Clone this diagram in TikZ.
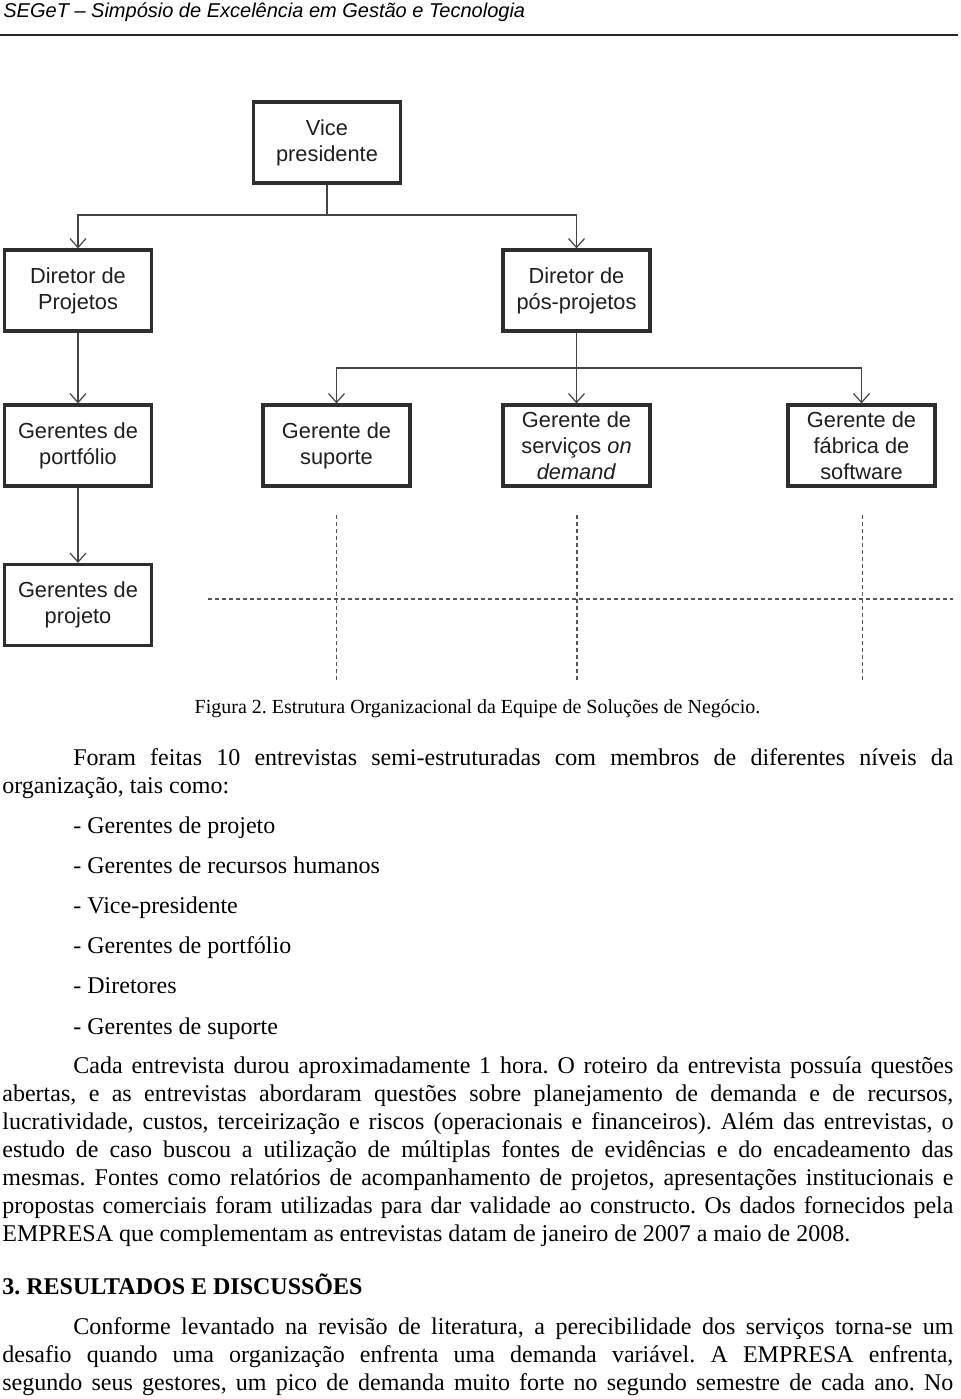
\documentclass[tikz,border=0pt]{standalone}
\usepackage{fontspec}
\setmainfont{Liberation Serif}
\newfontfamily\arial{Liberation Sans}
\usetikzlibrary{arrows.meta}
\definecolor{boxline}{HTML}{2E2E2E}
\definecolor{connline}{HTML}{444444}
\definecolor{dashline}{HTML}{555555}
\frenchspacing
\newcommand{\jfull}[1]{\hbox to 475.5pt{#1}}
\newcommand{\jind}[1]{\hbox to 440pt{#1}}
\begin{document}
\begin{tikzpicture}[x=0.5pt,y=-0.5pt,
  orgbox/.style={draw=boxline, line width=1.6pt, fill=white, align=center,
    minimum width=73.5pt, minimum height=40.5pt, inner sep=1pt,
    text=black!88, font=\arial\fontsize{10.9}{13}\selectfont},
  conn/.style={draw=connline, line width=0.6pt},
  arr/.style={conn, -{Straight Barb[length=4.5pt,width=8pt]}},
  dashgrid/.style={draw=dashline, line width=0.6pt, dash pattern=on 2pt off 1.5pt},
  txt/.style={anchor=base west, inner sep=0pt, font=\fontsize{12}{14}\selectfont},
  hdr/.style={anchor=base west, inner sep=0pt}
]
\fill[white] (0,0) rectangle (960,1399);
\useasboundingbox (0,0) rectangle (960,1399);

% header
\node[hdr, font=\arial\itshape\fontsize{10}{12}\selectfont] (header) at (3,17) {SEGeT – Simpósio de Excelência em Gestão e Tecnologia};
\draw[line width=1pt, black!85] (0,35) -- (958,35);

% org chart boxes
\node[orgbox] (vp)    at (327,142.5) {Vice\\presidente};
\node[orgbox] (dp)    at (78,290.5)  {Diretor de\\Projetos};
\node[orgbox] (dpp)   at (576.5,290.5) {Diretor de\\pós-projetos};
\node[orgbox] (gport) at (78,445.5)  {Gerentes de\\portfólio};
\node[orgbox] (gsup)  at (336.5,445.5) {Gerente de\\suporte};
\node[orgbox] (gserv) at (576.5,445.5) {Gerente de\\serviços \textit{on}\\\textit{demand}};
\node[orgbox] (gfab)  at (861.5,445.5) {Gerente de\\fábrica de\\software};
\node[orgbox] (gproj) at (78,605)    {Gerentes de\\projeto};

% connectors
\coordinate (j1) at (327,215);
\coordinate (j2) at (576.5,368);
\draw[conn] (vp.south) -- (j1);
\draw[arr] (j1) -| (dp.north);
\draw[arr] (j1) -| (dpp.north);
\draw[arr] (dp.south) -- (gport.north);
\draw[arr] (gport.south) -- (gproj.north);
\draw[arr] (dpp.south) -- (gserv.north);
\draw[arr] (j2) -| (gsup.north);
\draw[arr] (j2) -| (gfab.north);

% dashed grid
\draw[dashgrid] (208,599) -- (953,599);
\draw[dashgrid] (336.5,515) -- (336.5,683);
\draw[dashgrid] (577,515) -- (577,683);
\draw[dashgrid] (862.5,515) -- (862.5,683);

% caption
\node[anchor=base, inner sep=0pt, font=\fontsize{10}{12}\selectfont] (cap) at (477.5,713) {Figura 2. Estrutura Organizacional da Equipe de Soluções de Negócio.};

% paragraph 1
\node[txt] (p1a) at (73,765) {\jind{Foram feitas 10 entrevistas semi-estruturadas com membros de diferentes níveis da}};
\node[txt] (p1b) at (2,793) {organização, tais como:};

% list
\node[txt] (l1) at (73,833) {- Gerentes de projeto};
\node[txt] (l2) at (73,873) {- Gerentes de recursos humanos};
\node[txt] (l3) at (73,913) {- Vice-presidente};
\node[txt] (l4) at (73,953) {- Gerentes de portfólio};
\node[txt] (l5) at (73,993) {- Diretores};
\node[txt] (l6) at (73,1034) {- Gerentes de suporte};

% paragraph 2
\node[txt] (p2a) at (73,1073) {\jind{Cada entrevista durou aproximadamente 1 hora. O roteiro da entrevista possuía questões}};
\node[txt] (p2b) at (2,1101) {\jfull{abertas, e as entrevistas abordaram questões sobre planejamento de demanda e de recursos,}};
\node[txt] (p2c) at (2,1129) {\jfull{lucratividade, custos, terceirização e riscos (operacionais e financeiros). Além das entrevistas, o}};
\node[txt] (p2d) at (2,1157) {\jfull{estudo de caso buscou a utilização de múltiplas fontes de evidências e do encadeamento das}};
\node[txt] (p2e) at (2,1185) {\jfull{mesmas. Fontes como relatórios de acompanhamento de projetos, apresentações institucionais e}};
\node[txt] (p2f) at (2,1213) {\jfull{propostas comerciais foram utilizadas para dar validade ao constructo. Os dados fornecidos pela}};
\node[txt] (p2g) at (2,1241) {EMPRESA que complementam as entrevistas datam de janeiro de 2007 a maio de 2008.};

% heading
\node[txt, font=\bfseries\fontsize{12}{14}\selectfont] (h3) at (2,1294) {3. RESULTADOS E DISCUSSÕES};

% paragraph 3
\node[txt] (p3a) at (73,1334) {\jind{Conforme levantado na revisão de literatura, a perecibilidade dos serviços torna-se um}};
\node[txt] (p3b) at (2,1362) {\jfull{desafio quando uma organização enfrenta uma demanda variável. A EMPRESA enfrenta,}};
\node[txt] (p3c) at (2,1390) {\jfull{segundo seus gestores, um pico de demanda muito forte no segundo semestre de cada ano. No}};
\end{tikzpicture}
\end{document}
